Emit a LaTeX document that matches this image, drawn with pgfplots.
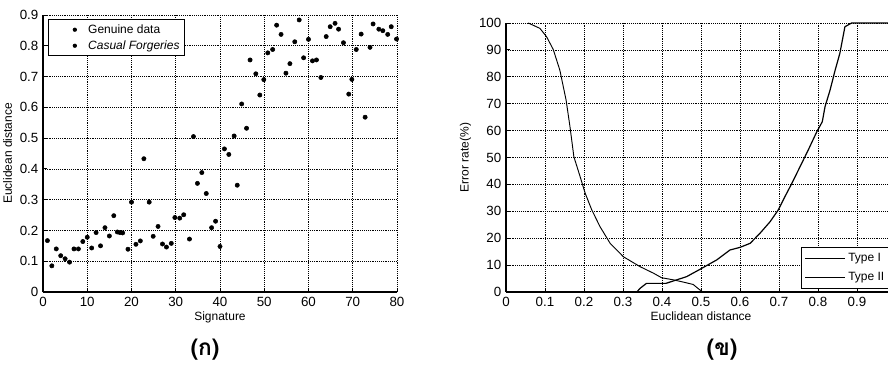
\documentclass[border=0pt]{standalone}
\usepackage{fontspec}
\setmainfont{Liberation Sans}
\newfontfamily\thaifont[Script=Thai]{Loma}
\usepackage{pgfplots}
\pgfplotsset{compat=1.18}
\begin{document}
\begin{tikzpicture}
\pgfplotsset{
  myax/.style={
    scale only axis,
    axis x line*=bottom, axis y line*=left,
    axis line style={-, line width=0.9pt, black},
    grid=major, grid style={densely dotted, black, line width=0.5pt},
    tick align=inside, major tick length=3pt,
    tick style={black, line width=0.6pt},
    ticklabel style={font=\fontsize{10}{11}\selectfont},
    label style={font=\fontsize{9}{10}\selectfont},
    /pgf/number format/assume math mode=true,
  }
}
% ---------- left: scatter ----------
\begin{axis}[myax,
  at={(32.25pt,62.25pt)}, anchor=south west,
  width=265.5pt, height=207.75pt,
  xmin=0, xmax=80, ymin=0, ymax=0.9,
  xtick={0,10,20,30,40,50,60,70,80},
  ytick={0,0.1,0.2,0.3,0.4,0.5,0.6,0.7,0.8,0.9},
  yticklabel style={/pgf/number format/fixed, /pgf/number format/precision=1},
  xlabel={Signature}, ylabel={Euclidean distance},
  xlabel style={yshift=3pt}, ylabel style={yshift=-1pt},
  legend style={at={(0.015,0.985)}, anchor=north west,
    font=\fontsize{9}{10}\selectfont, draw=black, thick, inner sep=1.5pt, row sep=0pt},
  legend cell align=left,
  legend image code/.code={\path[draw=none] (0pt,0pt) -- (26pt,0pt);
    \node[circle, fill=black, inner sep=0pt, minimum size=3.2pt] at (16pt,0pt) {};},
]
\addplot[only marks, mark=*, mark size=1.6pt, black] coordinates {
(1,0.167) (2,0.085) (3,0.140) (4,0.118) (5,0.108) (6,0.097) (7,0.140) (8,0.140)
(9,0.164) (10,0.178) (11,0.143) (12,0.193) (13,0.150) (14,0.209) (15,0.182) (16,0.248)
(16.8,0.195) (17.4,0.193) (18.0,0.192) (19.2,0.139) (20,0.292) (21,0.155) (22,0.166)
(22.8,0.433) (24,0.292) (24.9,0.181) (26,0.213) (27,0.156) (27.9,0.146) (29,0.158)
(29.8,0.242) (30.9,0.240) (31.8,0.251) (33.1,0.172) (34,0.505) (34.9,0.353) (35.9,0.388)
(36.9,0.320) (38.1,0.209) (39,0.230) (40,0.148)
};
\addlegendentry{Genuine data}
\addplot[only marks, mark=*, mark size=1.6pt, black] coordinates {
(41,0.465) (42,0.447) (43.2,0.507) (43.9,0.347) (44.9,0.611) (46,0.532) (46.8,0.754)
(48.1,0.709) (49,0.640) (49.9,0.690) (50.8,0.777) (51.9,0.788) (52.8,0.867) (53.8,0.837)
(54.9,0.711) (55.8,0.742) (56.9,0.813) (57.9,0.884) (58.9,0.761) (60,0.821) (60.9,0.751)
(61.8,0.754) (62.8,0.697) (64,0.830) (64.9,0.862) (66,0.873) (66.8,0.854) (67.9,0.810)
(69.1,0.643) (69.8,0.691) (70.8,0.788) (71.9,0.838) (72.8,0.568) (73.9,0.795) (74.6,0.871)
(75.9,0.854) (76.8,0.849) (77.9,0.837) (78.7,0.862) (79.9,0.822)
};
\addlegendentry{\textit{Casual Forgeries}}
\end{axis}
% ---------- right: error rates ----------
\begin{axis}[myax,
  at={(379.5pt,62.25pt)}, anchor=south west,
  width=292.5pt, height=201.75pt,
  xmin=0, xmax=1, ymin=0, ymax=100,
  xtick={0,0.1,0.2,0.3,0.4,0.5,0.6,0.7,0.8,0.9},
  ytick={0,10,20,30,40,50,60,70,80,90,100},
  xticklabel style={/pgf/number format/fixed, /pgf/number format/precision=1},
  xlabel={Euclidean distance}, ylabel={Error rate(\%)},
  xlabel style={yshift=3pt}, ylabel style={yshift=-1pt},
  legend style={at={(0.985,0.012)}, anchor=south east,
    font=\fontsize{9}{10}\selectfont, draw=black, thick, inner sep=2pt, row sep=3pt},
  legend cell align=left,
  legend image code/.code={\draw[#1] (0pt,0pt) -- (30pt,0pt);},
]
\addplot[black, line width=0.7pt] coordinates {
(0.057,100) (0.087,98) (0.104,94.9) (0.121,90.2) (0.138,82.5) (0.154,71.4) (0.164,61.5)
(0.174,50.3) (0.19,42.9) (0.203,36.7) (0.22,30.5) (0.241,24.3) (0.267,18.1) (0.301,13.1)
(0.344,9.4) (0.378,7) (0.399,5.3) (0.43,4.5) (0.46,3.5) (0.48,2.8) (0.495,1) (0.505,0) (1,0)
};
\addlegendentry{Type I}
\addplot[black, line width=0.9pt] coordinates {
(0,0) (0.335,0) (0.345,1.5) (0.36,3.2) (0.41,3.2) (0.433,4.3) (0.463,5.7) (0.497,8.4)
(0.54,11.9) (0.574,15.6) (0.6,16.6) (0.626,18.1) (0.651,21.8) (0.677,26.1) (0.698,30.5)
(0.715,35.4) (0.733,40.4) (0.754,46.6) (0.775,52.8) (0.797,59.6) (0.811,63.3) (0.818,68.9)
(0.831,75.1) (0.844,82.5) (0.856,88.7) (0.869,98.6) (0.886,100) (0.9,100) (1,100)
};
\addlegendentry{Type II}
\end{axis}
\node[font=\thaifont\bfseries\fontsize{17}{20}\selectfont] at (153.75pt,18.75pt) {(ก)};
\node[font=\thaifont\bfseries\fontsize{17}{20}\selectfont] at (541.5pt,18.75pt) {(ข)};
\pgfresetboundingbox
\useasboundingbox (0,0) rectangle (666pt,281.25pt);
\end{tikzpicture}
\end{document}
